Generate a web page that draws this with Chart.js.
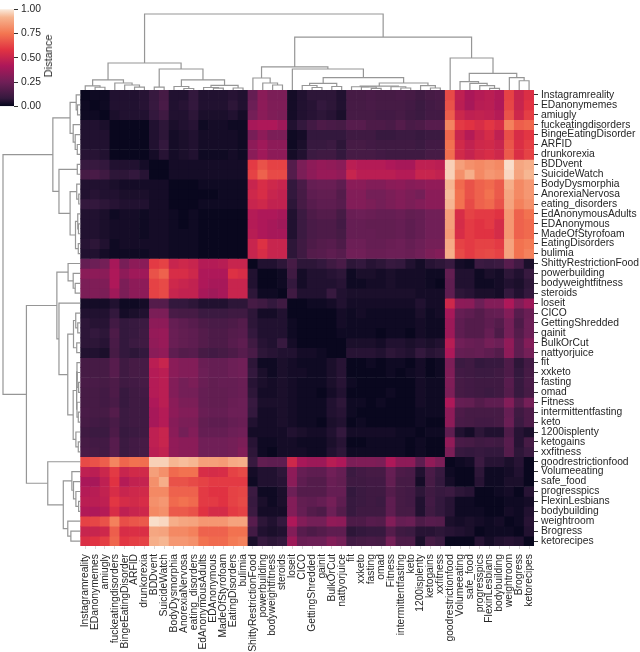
<!DOCTYPE html>
<html>
<head>
<meta charset="utf-8">
<title>Subreddit distance clustermap</title>
<script src="https://cdn.jsdelivr.net/npm/chart.js@4"></script>
<style>
  html, body { margin: 0; padding: 0; background: #fff; }
  #wrap { position: relative; width: 640px; height: 652px; overflow: hidden; }
  #wrap canvas { position: absolute; left: 0; top: 0; }
  #barTitle {
    position: absolute; left: 48px; top: 56px; transform: translate(-50%, -50%) rotate(-90deg);
    font: 11px "Liberation Sans", sans-serif; color: #262626; white-space: nowrap;
  }
</style>
</head>
<body>
<div id="wrap">
  <canvas id="heat" width="640" height="652"></canvas>
  <canvas id="topTree" width="640" height="652"></canvas>
  <canvas id="leftTree" width="640" height="652"></canvas>
  <canvas id="colorBar" width="640" height="652"></canvas>
  <div id="barTitle">Distance</div>
</div>
<script>
const subreddits = ['Instagramreality', 'EDanonymemes', 'amiugly', 'fuckeatingdisorders', 'BingeEatingDisorder', 'ARFID', 'drunkorexia',
  'BDDvent', 'SuicideWatch', 'BodyDysmorphia', 'AnorexiaNervosa', 'eating_disorders', 'EdAnonymousAdults', 'EDAnonymous', 'MadeOfStyrofoam',
  'EatingDisorders', 'bulimia', 'ShittyRestrictionFood', 'powerbuilding', 'bodyweightfitness', 'steroids', 'loseit', 'CICO', 'GettingShredded',
  'gainit', 'BulkOrCut', 'nattyorjuice', 'fit', 'xxketo', 'fasting', 'omad', 'Fitness', 'intermittentfasting', 'keto', '1200isplenty',
  'ketogains', 'xxfitness', 'goodrestrictionfood', 'Volumeeating', 'safe_food', 'progresspics', 'FlexinLesbians', 'bodybuilding', 'weightroom',
  'Brogress', 'ketorecipes'];

// distance x 100, upper triangle: row i starts at column i
const distances = [
  [1,2,2,5,5,5,6,9,13,5,5,8,5,5,5,6,5,22,32,28,28,3,5,7,7,7,5,13,13,14,13,13,14,13,11,13,14,64,47,41,44,46,43,62,50,56],
  [1,2,5,5,5,6,9,14,5,6,8,5,5,5,7,5,24,33,29,29,3,5,6,8,7,5,13,13,14,13,13,13,12,10,12,13,66,46,40,45,46,42,63,50,58],
  [1,4,5,5,5,8,11,5,5,7,4,4,4,5,3,26,32,29,28,3,5,6,7,6,4,13,13,13,12,12,13,11,10,12,12,69,51,47,48,47,44,66,52,61],
  [1,1,1,1,5,7,4,5,6,2,3,3,2,2,40,42,42,38,5,8,12,15,14,13,18,18,15,15,14,17,14,15,18,18,79,60,58,55,59,55,78,69,71],
  [1,1,1,5,7,3,4,5,3,3,3,3,2,27,33,28,28,2,3,8,8,8,8,11,11,11,9,9,10,10,9,10,10,71,50,44,50,54,47,65,55,59],
  [1,1,5,8,3,4,5,3,3,3,3,2,33,38,33,33,2,4,9,9,10,7,13,13,12,11,11,11,11,10,12,12,74,53,48,52,53,50,67,56,61],
  [1,3,6,3,4,5,2,2,2,3,2,32,38,33,33,3,5,10,11,11,8,13,13,13,12,11,11,11,11,13,13,73,53,49,53,55,52,68,56,62],
  [1,1,3,3,3,3,3,3,3,3,60,66,62,62,17,28,33,35,34,32,46,44,44,44,42,40,40,47,47,46,96,86,82,80,82,80,98,88,90],
  [1,3,3,3,3,3,3,3,3,62,70,64,64,17,28,33,36,36,34,50,46,46,46,46,44,44,50,50,48,96,82,90,80,84,82,97,87,92],
  [1,1,1,2,2,2,2,2,50,55,52,50,8,14,22,23,23,20,32,32,30,30,32,33,31,32,34,34,92,72,66,70,72,68,90,80,84],
  [1,1,1,1,2,2,2,52,55,50,48,8,13,20,21,21,17,30,30,26,26,28,30,28,26,32,32,93,74,66,70,74,68,88,80,84],
  [1,2,2,2,2,2,50,52,48,48,7,13,18,20,20,18,30,30,28,26,28,30,28,30,32,32,92,74,64,70,72,66,87,78,82],
  [1,1,1,1,1,44,42,42,40,5,10,15,17,17,13,23,24,23,22,22,23,21,22,25,25,86,55,62,60,60,58,84,70,74],
  [1,1,1,1,44,42,40,38,5,10,14,15,15,12,22,22,21,21,21,22,20,22,25,25,86,54,60,58,60,54,84,70,72],
  [1,1,1,45,42,40,40,5,10,14,15,15,13,22,22,22,21,21,22,20,22,25,25,85,55,60,58,58,54,84,70,72],
  [1,1,50,57,50,50,7,11,15,17,18,15,24,24,22,22,23,24,22,24,26,26,89,62,60,62,62,60,87,74,76],
  [1,50,55,50,50,7,11,17,18,20,18,25,25,23,23,24,24,23,25,28,30,90,64,60,63,64,62,87,74,78],
  [1,5,5,7,13,7,7,8,11,14,7,8,6,7,9,8,5,3,6,7,9,3,2,10,9,10,18,12,4],
  [1,1,2,11,3,5,5,6,7,2,4,4,3,4,3,3,3,2,2,21,5,5,2,4,3,7,5,9],
  [1,2,8,3,5,5,5,6,2,2,3,3,4,3,3,3,2,1,20,5,5,2,2,3,5,4,7],
  [1,11,5,5,5,9,5,4,4,4,4,4,4,4,3,3,3,20,7,6,4,4,3,8,5,8],
  [1,1,2,2,3,5,3,3,3,3,3,3,3,5,3,3,52,33,32,24,30,30,42,30,37],
  [1,1,1,1,3,2,3,2,2,2,2,2,4,2,3,40,22,20,17,21,22,30,18,23],
  [1,1,1,3,2,2,2,2,2,2,2,3,2,2,37,20,17,17,20,17,26,15,24],
  [1,1,2,2,2,2,1,2,2,1,3,2,2,37,20,17,17,22,15,26,17,24],
  [1,1,4,4,4,3,5,5,4,5,4,5,45,25,23,22,26,24,34,20,30],
  [1,6,6,6,5,7,6,5,8,6,7,42,22,21,22,20,17,33,20,26],
  [1,1,2,1,2,2,1,3,1,2,28,10,11,8,9,9,15,7,12],
  [1,1,1,2,1,2,3,1,2,29,12,11,10,10,11,15,8,13],
  [1,1,1,1,1,3,2,2,29,13,12,11,11,11,18,9,14],
  [1,2,1,1,3,2,2,28,13,12,11,10,11,17,9,13],
  [1,1,1,3,2,2,42,22,21,17,20,20,30,17,26],
  [1,1,2,2,2,33,15,13,13,13,13,22,11,15],
  [1,2,1,1,33,14,13,12,12,13,23,10,15],
  [1,2,2,20,5,3,7,5,5,15,6,4],
  [1,1,34,14,13,11,12,11,18,6,13],
  [1,28,9,8,9,8,8,17,7,10],
  [1,2,3,10,6,6,4,6,1],
  [1,1,7,2,2,3,5,1],
  [1,6,2,2,4,4,1],
  [1,1,2,3,1,6],
  [1,1,2,2,3],
  [1,3,2,5],
  [1,2,6],
  [1,5],
  [1]
];

// dendrogram: [height, left, right], 0 is a leaf
const edCoreTree = [0.132, [0.053, 0, [0.036, 0, 0]], [0.092, 0, [0.066, 0, [0.039, 0, 0]]]];
const edMainTree = [0.132, [0.046, 0, [0.02, 0, 0]], [0.062, [0.033, 0, [0.024, 0, 0]], [0.026, 0, 0]]];
const strengthTree = [0.158, 0, [0.092, 0, [0.066, 0, 0]]];
const gainTree = [0.088, [0.059, 0, [0.033, 0, 0]], [0.046, 0, 0]];
const fitTree = [0.092, [0.05, [0.043, 0, [0.041, 0, [0.022, 0, 0]]], [0.043, 0, [0.026, 0, 0]]], [0.057, 0, [0.026, 0, 0]]];
const progressTree = [0.22, [0.109, 0, [0.088, 0, [0.057, 0, [0.022, 0, 0]]]], [0.162, 0, [0.122, 0, 0]]];
const linkTree = [1,
  [0.355, edCoreTree, [0.276, [0.039, 0, 0], edMainTree]],
  [0.697,
    [0.303, strengthTree, [0.276, 0, [0.162, gainTree, fitTree]]],
    [0.421, 0, progressTree]]];

const barTicks = [0, 0.25, 0.5, 0.75, 1];

// seaborn rocket
const rocketStops = [
  [0, [3, 5, 26]], [0.083, [53, 25, 62]], [0.25, [112, 31, 87]], [0.417, [173, 23, 89]],
  [0.583, [225, 51, 66]], [0.75, [243, 118, 81]], [0.917, [246, 180, 143]], [1, [250, 235, 221]]
];

function rocket(v) {
  for (let i = 1; i < rocketStops.length; i++) {
    const [p1, c1] = rocketStops[i];
    if (v <= p1) {
      const [p0, c0] = rocketStops[i - 1];
      const t = (v - p0) / (p1 - p0);
      return 'rgb(' + c0.map((c, k) => Math.round(c + (c1[k] - c) * t)).join(',') + ')';
    }
  }
  return 'rgb(250,235,221)';
}

function distanceAt(r, c) {
  const a = Math.min(r, c), b = Math.max(r, c);
  return distances[a][b - a] / 100;
}

// turn the tree into one line per link
function treeLinks(tree, horizontal) {
  const links = [];
  let next = 0;
  const pt = (pos, h) => horizontal ? { x: h, y: pos } : { x: pos, y: h };
  function walk(node) {
    if (node === 0) return { pos: 0.5 + next++, h: 0 };
    const l = walk(node[1]), r = walk(node[2]);
    links.push([pt(l.pos, l.h), pt(l.pos, node[0]), pt(r.pos, node[0]), pt(r.pos, r.h)]);
    return { pos: (l.pos + r.pos) / 2, h: node[0] };
  }
  walk(tree);
  return links;
}

Chart.defaults.font.family = '"Liberation Sans", sans-serif';
Chart.defaults.font.size = 10.3;
Chart.defaults.color = '#262626';
Chart.defaults.animation = false;
Chart.defaults.responsive = false;
Chart.defaults.plugins.legend.display = false;
Chart.defaults.plugins.tooltip.enabled = false;

const n = subreddits.length;

// Heatmap
new Chart(document.getElementById('heat'), {
  type: 'bar',
  data: {
    labels: subreddits,
    datasets: subreddits.map((_, r) => ({
      data: subreddits.map(() => [r, r + 1]),
      backgroundColor: subreddits.map((_, c) => rocket(distanceAt(r, c))),
      borderWidth: 0,
      grouped: false,
      barPercentage: 1,
      categoryPercentage: 1
    }))
  },
  options: {
    layout: { padding: { left: 80.3, top: 90, right: 0, bottom: 0 } },
    scales: {
      x: {
        grid: { offset: false, drawOnChartArea: false, tickLength: 3, tickColor: '#d8d8d8' },
        border: { display: false },
        ticks: { autoSkip: false, minRotation: 90, maxRotation: 90, padding: 5 },
        afterFit: s => { s.height = 106; }
      },
      y: {
        position: 'right',
        reverse: true,
        min: 0,
        max: n,
        grid: { drawOnChartArea: false, tickLength: 4, tickColor: '#333' },
        border: { display: false },
        afterBuildTicks: s => { s.ticks = subreddits.map((_, i) => ({ value: i + 0.5 })); },
        ticks: { autoSkip: false, padding: 3, callback: v => subreddits[v - 0.5] },
        afterFit: s => { s.width = 106; }
      }
    }
  }
});

function treeChart(id, links, padding, scales) {
  return new Chart(document.getElementById(id), {
    type: 'scatter',
    data: {
      datasets: links.map(pts => ({
        data: pts,
        showLine: true,
        borderColor: '#969696',
        borderWidth: 1.2,
        pointRadius: 0,
        clip: false
      }))
    },
    options: { layout: { padding }, scales }
  });
}

// Top dendrogram
treeChart('topTree', treeLinks(linkTree, false), { left: 80.3, top: 14, right: 106, bottom: 562 }, {
  x: { display: false, min: 0, max: n },
  y: { display: false, min: 0, max: 1 }
});

// Left dendrogram
treeChart('leftTree', treeLinks(linkTree, true), { left: 3, top: 90, right: 559.7, bottom: 106 }, {
  x: { display: false, min: 0, max: 1, reverse: true },
  y: { display: false, min: 0, max: n, reverse: true }
});

// Colour bar
new Chart(document.getElementById('colorBar'), {
  type: 'bar',
  data: {
    labels: ['Distance'],
    datasets: [{
      data: [[0, 1]],
      borderWidth: 0,
      barPercentage: 1,
      categoryPercentage: 1,
      backgroundColor: ctx => {
        const area = ctx.chart.chartArea;
        if (!area) return '#000';
        const g = ctx.chart.ctx.createLinearGradient(0, area.bottom, 0, area.top);
        rocketStops.forEach(([p, c]) => g.addColorStop(p, 'rgb(' + c.join(',') + ')'));
        return g;
      }
    }]
  },
  options: {
    layout: { padding: { left: 0, top: 5, right: 590, bottom: 545.7 } },
    scales: {
      x: { display: false },
      y: {
        position: 'right',
        min: 0,
        max: 1,
        grid: { drawOnChartArea: false, tickLength: 4, tickColor: '#333' },
        border: { display: false },
        afterBuildTicks: s => { s.ticks = barTicks.map(value => ({ value })); },
        ticks: { padding: 3, callback: v => v.toFixed(2) },
        afterFit: s => { s.width = 36; }
      }
    }
  }
});
</script>
</body>
</html>
